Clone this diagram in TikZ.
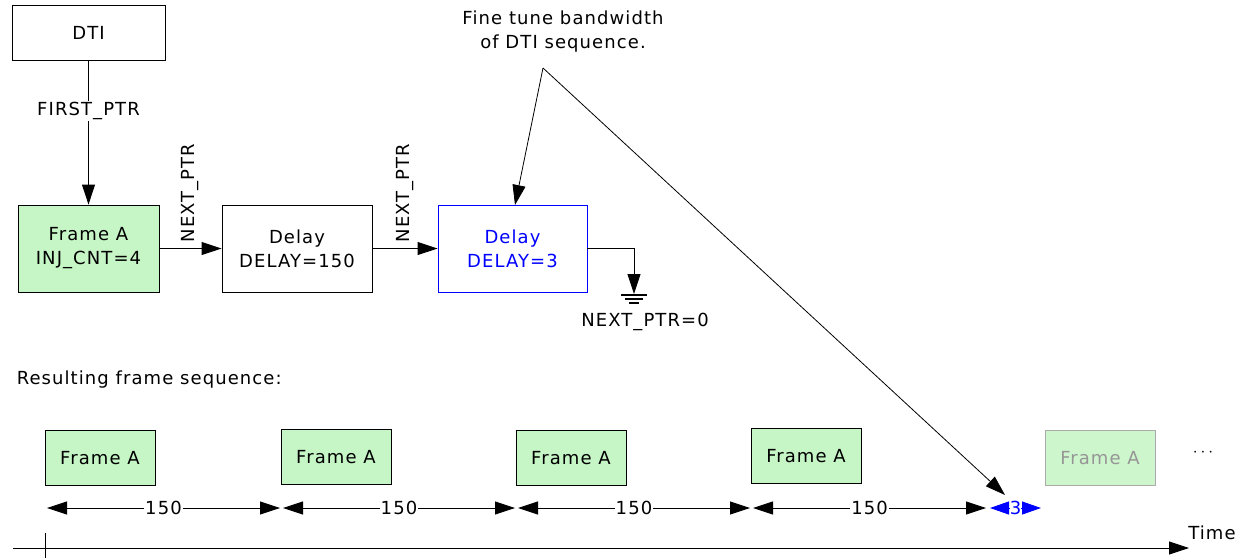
\documentclass[tikz,border=0pt]{standalone}
\usepackage{fontspec}
\setmainfont{DejaVu Sans}[LetterSpace=6]
\usetikzlibrary{arrows.meta,calc}
\definecolor{framegreen}{RGB}{198,245,198}
\definecolor{fadegreen}{RGB}{205,246,205}
\definecolor{fadegray}{RGB}{150,150,150}
\definecolor{myblue}{RGB}{0,0,255}
\begin{document}
\begin{tikzpicture}[x=1pt,y=-1pt,
  font=\fontsize{18}{24}\selectfont,
  line width=0.9pt,
  box/.style={draw, line width=0.9pt, inner sep=0pt, align=center},
  green/.style={box, fill=framegreen},
  tip/.style={-{Triangle[length=20pt,width=13pt]}},
  dimline/.style={{Triangle[length=20pt,width=13pt]}-{Triangle[length=20pt,width=13pt]}},
  lbl/.style={fill=white, inner sep=1pt},
  thin/.style={line width=0.8pt}]
\useasboundingbox (0,0) rectangle (1250,558);

% top chain
\node[box, minimum width=153pt, minimum height=55pt] (dti) at (88.5,32.5) {DTI};
\node[green, minimum width=141pt, minimum height=87pt] (fa) at (88.5,248.5) {Frame A\\INJ\_CNT=4};
\node[box, minimum width=150pt, minimum height=87pt] (d1) at (297,248.5) {Delay\\DELAY=150};
\node[box, draw=myblue, text=myblue, minimum width=149pt, minimum height=87pt] (d2) at (512.5,248.5) {Delay\\DELAY=3};

\draw[tip] (dti.south) -- node[lbl, pos=0.35] (fp) {FIRST\_PTR} (fa.north);
\draw[tip] (fa.east) -- (d1.west);
\draw[tip] (d1.east) -- (d2.west);
\node[rotate=90] (np1) at (190,193) {NEXT\_PTR};
\node[rotate=90] (np2) at (405,193) {NEXT\_PTR};

% ground
\coordinate (g) at (634,294);
\draw[tip] (d2.east) -| (g);
\draw[line width=1.1pt] ($(g)+(-13,1)$) -- ($(g)+(13,1)$);
\draw[line width=1.1pt] ($(g)+(-9,5)$) -- ($(g)+(9,5)$);
\draw[line width=1.1pt] ($(g)+(-5,9)$) -- ($(g)+(5,9)$);
\node (np0) at (645,322) {NEXT\_PTR=0};

% annotation
\node[align=center] (ann) at (563,32) {Fine tune bandwidth\\of DTI sequence.};
\coordinate (v) at (543,68);
\coordinate (t1) at (515,205);
\coordinate (t2) at (1005,495);
\draw[thin, tip] (v) -- (t1);
\draw[thin, tip] (v) -- (t2);

% sequence
\node[anchor=west] (res) at (13,380) {Resulting frame sequence:};
\node[green, minimum width=110pt, minimum height=55pt] (f1) at (100,458) {Frame A};
\node[green, minimum width=110pt, minimum height=55pt] (f2) at (336,457) {Frame A};
\node[green, minimum width=110pt, minimum height=55pt] (f3) at (571,458) {Frame A};
\node[green, minimum width=110pt, minimum height=55pt] (f4) at (806,456) {Frame A};
\node[box, fill=fadegreen, draw=fadegray!80, text=fadegray, minimum width=110pt, minimum height=55pt] (f5) at (1100,458) {Frame A};
\node (dots) at (1203,453) {$\cdots$};

% dimensions
\coordinate (a0) at (47,508);
\coordinate (a1) at (280,508);
\coordinate (b0) at (283,508);
\coordinate (b1) at (515,508);
\coordinate (c0) at (518,508);
\coordinate (c1) at (750,508);
\coordinate (e0) at (753,508);
\coordinate (e1) at (986,508);
\coordinate (h0) at (990,508);
\coordinate (h1) at (1041,508);
\draw[dimline] (a0) -- node[lbl, pos=0.5] (l1) {150} (a1);
\draw[dimline] (b0) -- node[lbl, pos=0.5] (l2) {150} (b1);
\draw[dimline] (c0) -- node[lbl, pos=0.5] (l3) {150} (c1);
\draw[dimline] (e0) -- node[lbl, pos=0.5] (l4) {150} (e1);
\draw[{Triangle[length=19pt,width=13pt]}-{Triangle[length=19pt,width=13pt]}, myblue, fill=myblue] (h0) -- node[fill=white, inner sep=0pt, text=myblue] (l5) {3} (h1);

% time axis
\coordinate (ta) at (13,548);
\coordinate (tb) at (1189,548);
\draw[tip] (ta) -- (tb);
\coordinate (k0) at (45,533);
\coordinate (k1) at (45,558);
\draw (k0) -- (k1);
\node (time) at (1212,533) {Time};
\end{tikzpicture}
\end{document}
